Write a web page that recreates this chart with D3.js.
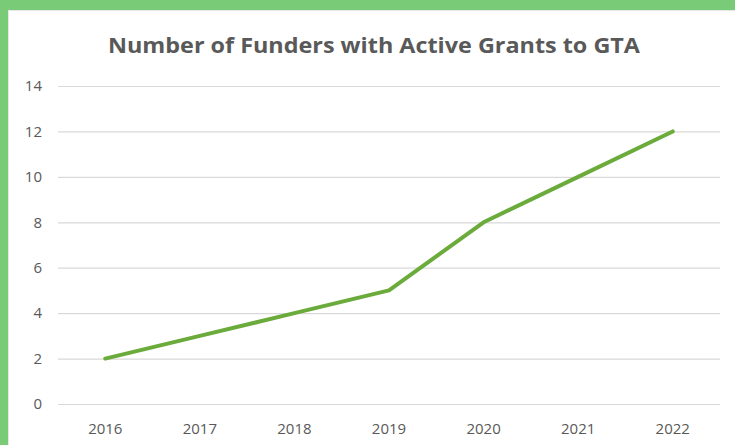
<!DOCTYPE html>
<html>
<head>
<meta charset="utf-8">
<script src="https://cdn.jsdelivr.net/npm/d3@7"></script>
<style>
  body { margin: 0; background: #fff; }
  svg { display: block; }
</style>
</head>
<body>
<div id="chart"></div>
<script>
  const years = ["2016", "2017", "2018", "2019", "2020", "2021", "2022"];
  const funders = [2, 3, 4, 5, 8, 10, 12];
  const yTicks = [0, 2, 4, 6, 8, 10, 12, 14];

  const WIDTH = 735;
  const HEIGHT = 445;
  const margin = { top: 86, right: 15, bottom: 41, left: 58 };

  const COLORS = {
    frame: "#79cb77",
    grid: "#d9d9d9",
    text: "#595959",
    line: "#6aab3c",
  };

  const svg = d3
    .select("#chart")
    .append("svg")
    .attr("width", WIDTH)
    .attr("height", HEIGHT);

  // green frame (top + left), faint inner edge
  svg.append("rect").attr("width", WIDTH).attr("height", HEIGHT).attr("fill", "#fff");
  svg.append("rect").attr("x", 0).attr("y", 0).attr("width", WIDTH).attr("height", 10).attr("fill", COLORS.frame);
  svg.append("rect").attr("x", 0).attr("y", 0).attr("width", 8).attr("height", HEIGHT).attr("fill", COLORS.frame);
  svg.append("line").attr("x1", 8).attr("x2", WIDTH).attr("y1", 10.5).attr("y2", 10.5).attr("stroke", "#e6e6e6");
  svg.append("line").attr("x1", 8.5).attr("x2", 8.5).attr("y1", 10).attr("y2", HEIGHT).attr("stroke", "#e6e6e6");

  const innerW = WIDTH - margin.left - margin.right;
  const innerH = HEIGHT - margin.top - margin.bottom;

  const x = d3.scaleBand().domain(years).range([0, innerW]).padding(0);
  const y = d3.scaleLinear().domain([0, 14]).range([innerH, 0]);

  const g = svg.append("g").attr("transform", `translate(${margin.left},${margin.top})`);

  // gridlines
  g.append("g")
    .call(d3.axisLeft(y).tickValues(yTicks).tickSize(-innerW).tickFormat(""))
    .call((a) => a.select(".domain").remove())
    .call((a) => a.selectAll("line").attr("stroke", COLORS.grid).attr("stroke-width", 1.2));

  // y labels
  g.append("g")
    .call(d3.axisLeft(y).tickValues(yTicks).tickSize(0).tickPadding(16))
    .call((a) => a.select(".domain").remove())
    .call((a) =>
      a.selectAll("text")
        .attr("fill", COLORS.text)
        .style("font-family", "'Open Sans', sans-serif")
        .style("font-size", "15px")
    );

  // x labels
  g.append("g")
    .attr("transform", `translate(0,${innerH})`)
    .call(d3.axisBottom(x).tickSize(0).tickPadding(19))
    .call((a) => a.select(".domain").remove())
    .call((a) =>
      a.selectAll("text")
        .attr("fill", COLORS.text)
        .style("font-family", "'Open Sans', sans-serif")
        .style("font-size", "15px")
    );

  // line
  const line = d3
    .line()
    .x((d, i) => x(years[i]) + x.bandwidth() / 2)
    .y((d) => y(d));

  g.append("path")
    .datum(funders)
    .attr("d", line)
    .attr("fill", "none")
    .attr("stroke", COLORS.line)
    .attr("stroke-width", 4)
    .attr("stroke-linejoin", "round")
    .attr("stroke-linecap", "round");

  // title
  svg.append("text")
    .attr("x", 374)
    .attr("y", 53)
    .attr("text-anchor", "middle")
    .attr("fill", COLORS.text)
    .style("font-family", "'Open Sans', sans-serif")
    .style("font-weight", 700)
    .style("font-size", "22px")
    .attr("textLength", 532)
    .attr("lengthAdjust", "spacingAndGlyphs")
    .text("Number of Funders with Active Grants to GTA");
</script>
</body>
</html>
